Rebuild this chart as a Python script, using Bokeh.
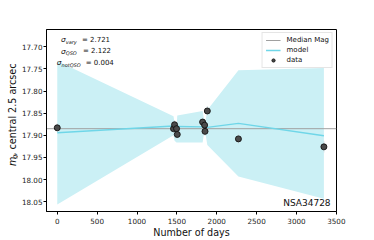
import numpy as np
from bokeh.plotting import figure
from bokeh.layouts import row
from bokeh.models import Range1d, FixedTicker, NumeralTickFormatter, Legend, LegendItem
from bokeh.core.properties import value
from bokeh.embed import file_html
from bokeh.resources import INLINE

# ---- data ----
days = [0, 1458, 1471, 1496, 1505, 1823, 1848, 1853, 1882, 2272, 3344]
mags = [17.883, 17.885, 17.876, 17.885, 17.898, 17.870, 17.877, 17.891, 17.845, 17.908, 17.926]
errs = [0.010, 0.010, 0.010, 0.010, 0.010, 0.010, 0.010, 0.010, 0.011, 0.012, 0.013]

model_mag = [17.894, 17.879, 17.879, 17.880, 17.880, 17.881, 17.882, 17.882, 17.882, 17.873, 17.901]
band_top = [17.732, 17.857, 17.872, 17.884, 17.855, 17.845, 17.872, 17.874, 17.843, 17.753, 17.748]
band_bot = [18.056, 17.900, 17.912, 17.916, 17.916, 17.916, 17.888, 17.890, 17.922, 17.993, 18.043]

sigma_names = ["vary", "QSO", "notQSO"]
sigma_vals = [2.721, 2.122, 0.004]
object_name = "NSA34728"

x_ticks = [0, 500, 1000, 1500, 2000, 2500, 3000, 3500]
y_ticks = [17.70, 17.75, 17.80, 17.85, 17.90, 17.95, 18.00, 18.05]

X_LO, X_HI = -135, 3502
Y_BOT, Y_TOP = 18.072, 17.661

FONT = "DejaVu Sans"
LBL_W = 18

p = figure(width=374 - LBL_W, height=240, output_backend="svg", toolbar_location=None,
           x_range=Range1d(X_LO, X_HI), y_range=Range1d(Y_BOT, Y_TOP),
           min_border_left=25, min_border_right=38, min_border_top=29, min_border_bottom=27)
p.grid.visible = False
p.outline_line_color = "black"
p.outline_line_width = 1
p.background_fill_color = "white"
p.border_fill_color = "white"

for ax in (p.xaxis[0], p.yaxis[0]):
    ax.major_label_text_font = FONT
    ax.major_label_text_font_size = "7.2px"
    ax.major_label_text_color = "#222222"
    ax.axis_line_color = "black"
    ax.axis_line_width = 1
    ax.major_tick_line_color = "black"
    ax.major_tick_out = 3
    ax.major_tick_in = 0
    ax.minor_tick_line_color = None
    ax.major_label_standoff = 2

p.xaxis.ticker = FixedTicker(ticks=x_ticks)
p.yaxis.ticker = FixedTicker(ticks=y_ticks)
p.yaxis.formatter = NumeralTickFormatter(format="0.00")
p.yaxis.major_label_standoff = 1
p.xaxis.major_label_standoff = 3
p.xaxis.axis_label = "Number of days"
p.xaxis.axis_label_text_font = FONT
p.xaxis.axis_label_text_font_size = "9.6px"
p.xaxis.axis_label_text_font_style = "normal"
p.xaxis.axis_label_text_color = "#111111"
p.xaxis.axis_label_standoff = 0

# band
p.varea(x=days, y1=band_top, y2=band_bot, fill_color="#cbf0f5", fill_alpha=1.0)

# median line
med = float(np.median(mags))
r_med = p.line(x=[X_LO, X_HI], y=[med, med], line_color="#a0a0a0", line_width=1)

# model
r_model = p.line(x=days, y=model_mag, line_color="#6fd6e8", line_width=1.4)

# error bars
m = np.array(mags); e = np.array(errs)
p.segment(x0=days, x1=days, y0=m - e, y1=m + e, line_color="#d2e6ea", line_width=1)

# data
r_data = p.scatter(x=days, y=mags, size=6, fill_color="#4a4a4a", line_color="#111111", line_width=0.9)

# sigma annotations
sig_x = [46, 46, -7.5]
sig_y = [17.6844, 17.7105, 17.7357]
eq_off = [21, 22, 29]
p.text(x=sig_x, y=sig_y, text=["σ"] * 3, text_font=value(FONT), text_font_size="7.5px",
       text_font_style="italic", text_baseline="middle", text_align="left", text_color="#111111")
p.text(x=sig_x, y=sig_y, text=sigma_names, text_font=value(FONT), text_font_size="5px",
       text_font_style="italic", text_baseline="middle", text_align="left", text_color="#111111",
       x_offset=4.8, y_offset=2)
p.text(x=sig_x, y=sig_y, text=[f"= {v:.3f}" for v in sigma_vals], text_font=value(FONT),
       text_font_size="7px", text_baseline="middle", text_align="left", text_color="#111111",
       x_offset=eq_off)

# object name
p.text(x=[3428], y=[18.052], text=[object_name], text_font=value(FONT), text_font_size="9px",
       text_baseline="middle", text_align="right", text_color="#111111")

legend = Legend(items=[LegendItem(label="Median Mag", renderers=[r_med]),
                       LegendItem(label="model", renderers=[r_model]),
                       LegendItem(label="data", renderers=[r_data])],
                location="top_right", margin=3, padding=3, spacing=2,
                label_text_font=FONT, label_text_font_size="7px", label_text_color="#111111",
                label_height=8, glyph_height=8, glyph_width=15, label_standoff=6,
                border_line_color="#cccccc", border_line_width=1,
                background_fill_color="white", background_fill_alpha=0.85)
p.add_layout(legend)

# ---- y-axis label panel (rotated text with subscript) ----
lbl = figure(width=LBL_W, height=240, output_backend="svg", toolbar_location=None,
             x_axis_location=None, y_axis_location=None,
             x_range=Range1d(0, LBL_W), y_range=Range1d(0, 240),
             min_border=0, min_border_left=0, min_border_right=0, min_border_top=0, min_border_bottom=0)
lbl.grid.visible = False
lbl.outline_line_color = None
lbl.background_fill_color = "white"
lbl.border_fill_color = "white"

lx = 11.5
y0 = 60
lbl.text(x=[lx], y=[y0], text=["m"], angle=90, angle_units="deg", text_font=value(FONT),
         text_font_size="9.6px", text_font_style="italic", text_align="left", text_baseline="middle",
         text_color="#111111")
lbl.text(x=[lx + 2.5], y=[y0 + 9.4], text=["g"], angle=90, angle_units="deg", text_font=value(FONT),
         text_font_size="6.7px", text_font_style="italic", text_align="left", text_baseline="middle",
         text_color="#111111")
lbl.text(x=[lx], y=[y0 + 13.8], text=[", central 2.5 arcsec"], angle=90, angle_units="deg",
         text_font=value(FONT), text_font_size="9.6px", text_align="left", text_baseline="middle",
         text_color="#111111")

layout = row(lbl, p)
open("out.html", "w").write(file_html(layout, INLINE))
